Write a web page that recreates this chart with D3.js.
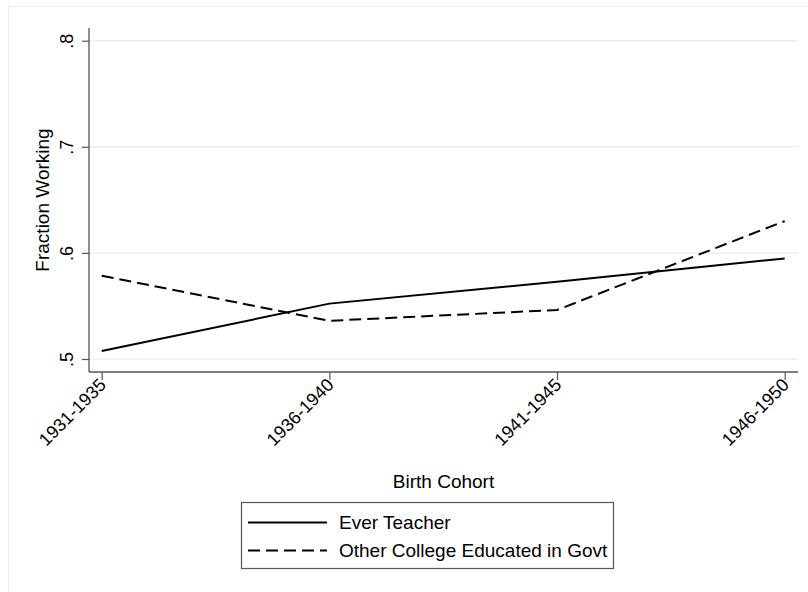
<!DOCTYPE html>
<html>
<head>
<meta charset="utf-8">
<script src="https://cdn.jsdelivr.net/npm/d3@7"></script>
<style>
  html, body { margin: 0; padding: 0; background: #ffffff; }
  svg { display: block; font-family: "Liberation Sans", Arial, sans-serif; }
</style>
</head>
<body>
<svg id="chart" width="808" height="592"></svg>
<script>
const cohorts = ["1931-1935", "1936-1940", "1941-1945", "1946-1950"];
const everTeacher = [0.5075, 0.5522, 0.5728, 0.5948];
const otherCollegeGovt = [0.5785, 0.5360, 0.5462, 0.6300];
const yTicks = [0.5, 0.6, 0.7, 0.8];
const yTickLabels = [".5", ".6", ".7", ".8"];
const seriesNames = ["Ever Teacher", "Other College Educated in Govt"];

const svg = d3.select("#chart");
const plot = { left: 89, right: 798, top: 28, bottom: 372 };

// outer frame
svg.append("rect")
  .attr("x", 8.5).attr("y", 6.5).attr("width", 820).attr("height", 620)
  .attr("fill", "none").attr("stroke", "#e6eef0").attr("stroke-width", 1);

const x = d3.scalePoint().domain(cohorts).range([101.7, 784.7]);
const y = d3.scaleLinear().domain([0.5, 0.8]).range([359, 40.7]);

// gridlines
svg.append("g").selectAll("line").data(yTicks).join("line")
  .attr("x1", plot.left).attr("x2", plot.right)
  .attr("y1", d => y(d)).attr("y2", d => y(d))
  .attr("stroke", "#e8f0f2").attr("stroke-width", 1.5);

// y axis
const yAxis = d3.axisLeft(y).tickValues(yTicks)
  .tickFormat((d, i) => yTickLabels[i]).tickSize(7).tickPadding(4);
const gy = svg.append("g").attr("transform", `translate(${plot.left},0)`).call(yAxis);
gy.select(".domain").remove();
gy.append("line").attr("x1", 0).attr("x2", 0).attr("y1", plot.top).attr("y2", plot.bottom)
  .attr("stroke", "#555").attr("stroke-width", 1.3);
gy.selectAll(".tick line").attr("stroke", "#555").attr("stroke-width", 1.2);
gy.selectAll(".tick text")
  .attr("font-size", 18).attr("fill", "#000")
  .attr("text-anchor", "middle").attr("dy", 0).attr("y", 0).attr("x", 0)
  .attr("transform", "translate(-16,0) rotate(-90)");

// x axis
const xAxis = d3.axisBottom(x).tickSize(8).tickPadding(4);
const gx = svg.append("g").attr("transform", `translate(0,${plot.bottom})`).call(xAxis);
gx.select(".domain").remove();
gx.append("line").attr("x1", plot.left).attr("x2", plot.right).attr("y1", 0).attr("y2", 0)
  .attr("stroke", "#555").attr("stroke-width", 1.3);
gx.selectAll(".tick line").attr("stroke", "#555").attr("stroke-width", 1.2);
gx.selectAll(".tick text")
  .attr("font-size", 18).attr("fill", "#000")
  .attr("text-anchor", "end").attr("dy", 0).attr("y", 0)
  .attr("transform", "translate(5,14) rotate(-45)");

// axis titles
svg.append("text").attr("transform", "translate(48.5,200) rotate(-90)")
  .attr("text-anchor", "middle").attr("font-size", 19).text("Fraction Working");
svg.append("text").attr("x", (plot.left + plot.right) / 2).attr("y", 488)
  .attr("text-anchor", "middle").attr("font-size", 19).text("Birth Cohort");

// lines
const line = d3.line().x((d, i) => x(cohorts[i])).y(d => y(d));
svg.append("path").datum(everTeacher).attr("d", line)
  .attr("fill", "none").attr("stroke", "#000").attr("stroke-width", 2);
svg.append("path").datum(otherCollegeGovt).attr("d", line)
  .attr("fill", "none").attr("stroke", "#000").attr("stroke-width", 2)
  .attr("stroke-dasharray", "12,6");

// legend
const lg = svg.append("g");
lg.append("rect").attr("x", 241.5).attr("y", 502.5).attr("width", 372).attr("height", 66)
  .attr("fill", "#fff").attr("stroke", "#555").attr("stroke-width", 1.2);
const dashes = [null, "12,6"];
seriesNames.forEach((name, i) => {
  const yy = 522.5 + i * 28;
  lg.append("line").attr("x1", 248).attr("x2", 327).attr("y1", yy).attr("y2", yy)
    .attr("stroke", "#000").attr("stroke-width", 2)
    .attr("stroke-dasharray", dashes[i]);
  lg.append("text").attr("x", 339).attr("y", yy + 6.5)
    .attr("font-size", 19).text(name);
});
</script>
</body>
</html>
